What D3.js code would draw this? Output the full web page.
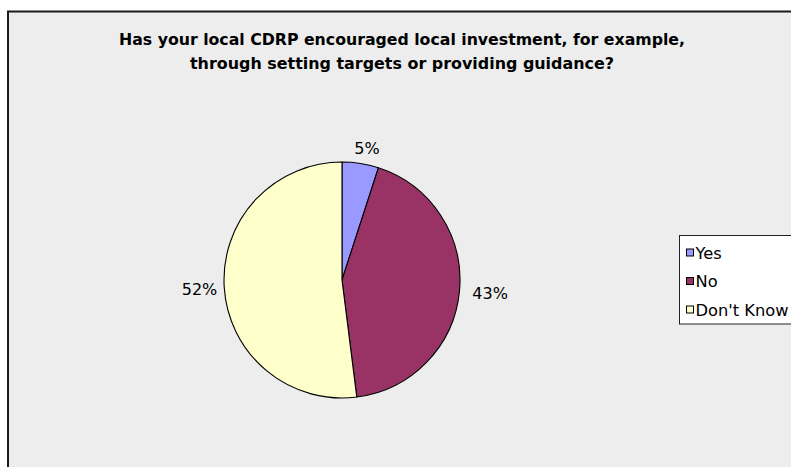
<!DOCTYPE html>
<html>
<head>
<meta charset="utf-8">
<script src="https://cdn.jsdelivr.net/npm/d3@7"></script>
<style>
  html, body { margin: 0; padding: 0; background: #ffffff; }
  svg { display: block; }
</style>
</head>
<body>
<script>
// Survey answers and their shares (percent)
const categories = ["Yes", "No", "Don't Know"];
const shares = [5, 43, 52];
const colors = ["#9999ff", "#993366", "#ffffcc"];
const titleLines = [
  "Has your local CDRP encouraged local investment, for example,",
  "through setting targets or providing guidance?"
];

const W = 791, H = 467;
const svg = d3.select("body").append("svg").attr("width", W).attr("height", H);

// chart area frame
svg.append("rect")
  .attr("x", 8).attr("y", 11.5)
  .attr("width", W + 20).attr("height", H + 20)
  .attr("fill", "#ededed")
  .attr("stroke", "#1a1a1a").attr("stroke-width", 2);

// title
const titleWidths = [566, 424];
svg.append("g").selectAll("text").data(titleLines).join("text")
  .attr("x", 402)
  .attr("y", (d, i) => 44.5 + i * 24)
  .attr("text-anchor", "middle")
  .attr("font-family", "DejaVu Sans, Verdana, sans-serif")
  .attr("font-weight", "bold")
  .attr("font-size", 16.5)
  .attr("textLength", (d, i) => titleWidths[i])
  .attr("lengthAdjust", "spacingAndGlyphs")
  .attr("fill", "#000")
  .text(d => d);

// pie
const cx = 342, cy = 280, r = 118;
const pie = d3.pie().sort(null).value(d => d)(shares);
const arc = d3.arc().innerRadius(0).outerRadius(r);
const g = svg.append("g").attr("transform", `translate(${cx},${cy})`);

g.selectAll("path").data(pie).join("path")
  .attr("d", arc)
  .attr("fill", (d, i) => colors[i])
  .attr("stroke", "#000")
  .attr("stroke-width", 1.1)
  .attr("stroke-linejoin", "round");

// percentage labels outside the slices
const labelFont = 16;
g.selectAll("text.lbl").data(pie).join("text")
  .attr("class", "lbl")
  .attr("font-family", "DejaVu Sans, Verdana, sans-serif")
  .attr("font-size", labelFont)
  .attr("fill", "#000")
  .attr("text-anchor", "middle")
  .text(d => d.data + "%")
  .each(function(d) {
    const a = (d.startAngle + d.endAngle) / 2;
    const sx = Math.sin(a), sy = -Math.cos(a);
    const bb = this.getBBox();
    const hw = bb.width / 2 + 1, hh = 6.5;
    const px = sx * (r + 9) + sx * hw + 3;
    const py = sy * (r + 10) + sy * hh;
    d3.select(this).attr("x", px).attr("y", py + hh);
  });

// legend
const legend = svg.append("g");
legend.append("rect")
  .attr("x", 679.5).attr("y", 235.5)
  .attr("width", 140).attr("height", 88.5)
  .attr("fill", "#ffffff")
  .attr("stroke", "#222").attr("stroke-width", 1);

const items = legend.selectAll("g.item").data(categories).join("g")
  .attr("class", "item")
  .attr("transform", (d, i) => `translate(0,${258.5 + i * 28.5})`);

items.append("rect")
  .attr("x", 686.5).attr("y", -9.5)
  .attr("width", 7).attr("height", 7)
  .attr("fill", (d, i) => colors[i])
  .attr("stroke", "#000").attr("stroke-width", 1);

items.append("text")
  .attr("x", 695.5).attr("y", 0)
  .attr("font-family", "DejaVu Sans, Verdana, sans-serif")
  .attr("font-size", 16.3)
  .attr("fill", "#000")
  .text(d => d);
</script>
</body>
</html>
